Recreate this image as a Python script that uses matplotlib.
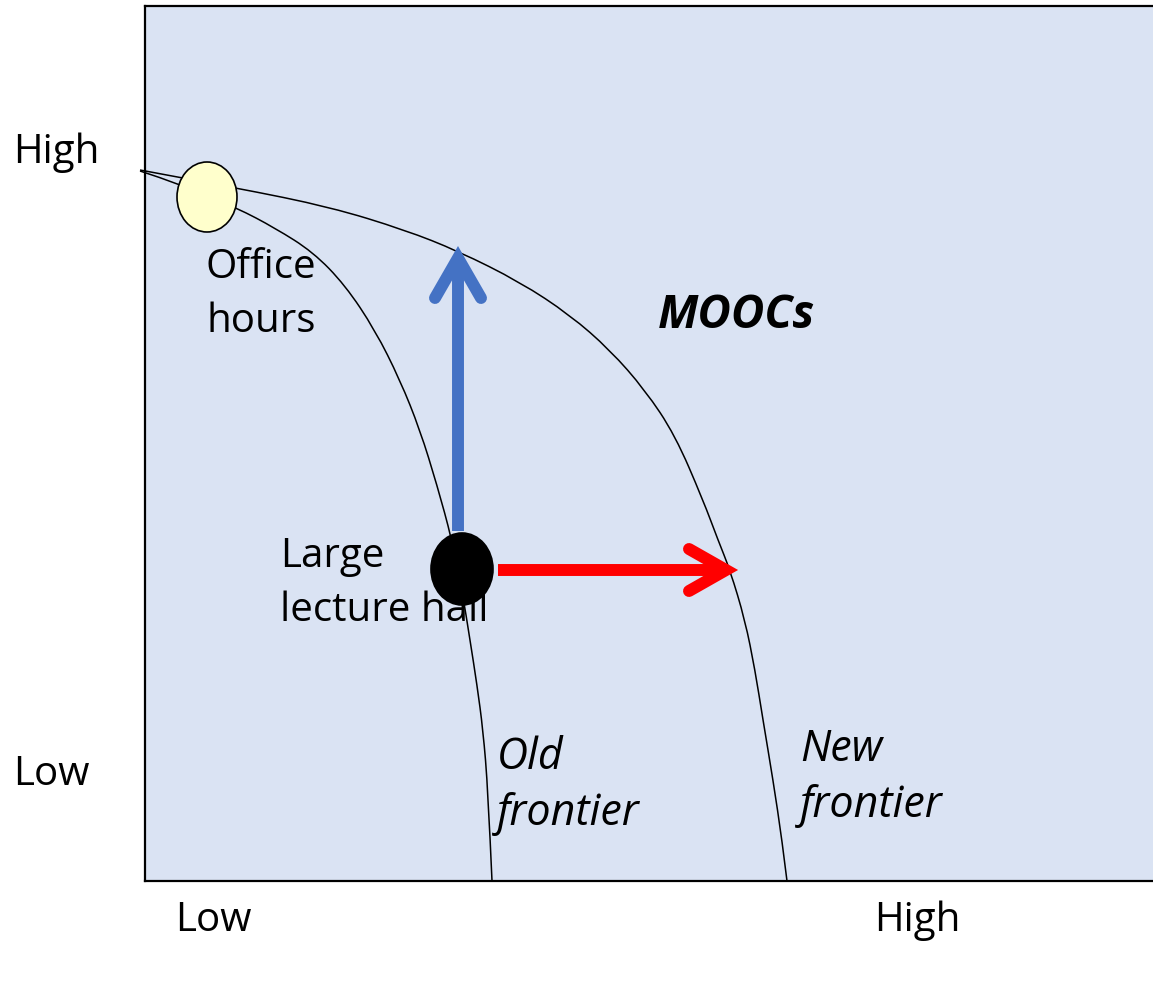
import matplotlib.pyplot as plt
from matplotlib.patches import Ellipse, PathPatch
from matplotlib.path import Path

# frontier curves (x = scale, y = quality, pixel-like units)
old_x = [140, 180, 237, 275, 313, 345, 375, 400, 420, 437, 452, 462, 470, 477, 483, 488, 492]
old_y = [171, 184, 208, 228, 252, 285, 330, 380, 430, 485, 540, 590, 640, 685, 730, 790, 881]
new_x = [140, 237, 330, 405, 458, 520, 570, 610, 645, 675, 703, 718, 730, 745, 755, 763, 773, 782, 787]
new_y = [170, 188, 207, 230, 251, 282, 315, 350, 390, 435, 500, 540, 570, 620, 670, 720, 780, 840, 881]

# teaching formats (centre x, centre y)
office_hours = (207, 197)
lecture_hall = (462, 569)

# shifts from lecture hall to new frontier
up_tip = (458, 252)
right_tip = (737, 570)

axis_ticks = [213, 917]
axis_labels = ['Low', 'High']
yaxis_ticks = [148, 770]
yaxis_labels = ['High', 'Low']

plt.rcParams['font.family'] = ['Open Sans', 'DejaVu Sans']


def smooth_path(xs, ys):
    # quadratic bezier through the midpoints, so the read points give a smooth curve
    pts = list(zip(xs, ys))
    verts = [pts[0]]
    codes = [Path.MOVETO]
    for i in range(1, len(pts) - 1):
        mid = ((pts[i][0] + pts[i + 1][0]) / 2, (pts[i][1] + pts[i + 1][1]) / 2)
        if i == len(pts) - 2:
            mid = pts[-1]
        verts += [pts[i], mid]
        codes += [Path.CURVE3, Path.CURVE3]
    return Path(verts, codes)


fig = plt.figure(figsize=(11.53, 9.97), dpi=100)
ax = fig.add_axes([145 / 1153, 116 / 997, 1008 / 1153, 875 / 997])
ax.set_xlim(145, 1153)
ax.set_ylim(881, 6)
ax.set_facecolor('#DAE3F3')

for s in ['left', 'bottom', 'top']:
    ax.spines[s].set_linewidth(1.6)
ax.spines['right'].set_visible(False)

for xs, ys in [(old_x, old_y), (new_x, new_y)]:
    ax.add_patch(PathPatch(smooth_path(xs, ys), facecolor='none', edgecolor='black',
                           lw=1.1, clip_on=False, zorder=2))

# blue arrow (quality up)
bx = up_tip[0]
ax.plot([bx, bx], [lecture_hall[1] - 38, up_tip[1] + 10], color='#4472C4', lw=8.6,
        solid_capstyle='butt', zorder=3)
ax.plot([bx - 23, bx, bx + 23], [298, up_tip[1] + 6, 298], color='#4472C4', lw=8.6,
        solid_capstyle='round', solid_joinstyle='miter', zorder=3)

# red arrow (scale right)
ry = right_tip[1]
ax.plot([lecture_hall[0] + 36, right_tip[0] - 12], [ry, ry], color='#FF0000', lw=8.6,
        solid_capstyle='butt', zorder=3)
ax.plot([689, right_tip[0] - 11, 689], [ry - 21, ry, ry + 21], color='#FF0000', lw=8.6,
        solid_capstyle='round', solid_joinstyle='miter', zorder=3)

ax.add_patch(Ellipse(office_hours, 60, 70, facecolor='#FFFFCC', edgecolor='black',
                     lw=1.2, zorder=4))
ax.add_patch(Ellipse(lecture_hall, 62, 72, facecolor='black', edgecolor='black',
                     lw=1.2, zorder=4))

fs = 29
ls = 1.43
ax.text(206, 295, 'Office\nhours', fontsize=fs, va='center', ha='left', linespacing=ls, zorder=5)
ax.text(280, 584, 'Large\nlecture hall', fontsize=fs, va='center', ha='left', linespacing=ls, zorder=5)
ax.text(658, 315, 'MOOCs', fontsize=33, va='center', ha='left', style='italic',
        fontweight='bold', zorder=5)
ax.text(497, 786, 'Old\nfrontier', fontsize=31, va='center', ha='left', style='italic',
        linespacing=1.34, zorder=5)
ax.text(800, 778, 'New\nfrontier', fontsize=31, va='center', ha='left', style='italic',
        linespacing=1.34, zorder=5)

ax.set_xticks(axis_ticks, axis_labels, fontsize=fs)
ax.set_yticks(yaxis_ticks, yaxis_labels, fontsize=fs)
for lbl in ax.get_yticklabels():
    lbl.set_horizontalalignment('left')
ax.tick_params(axis='y', length=0, pad=95)
ax.tick_params(axis='x', length=0, pad=14)

fig.savefig('out.png', dpi=100)
